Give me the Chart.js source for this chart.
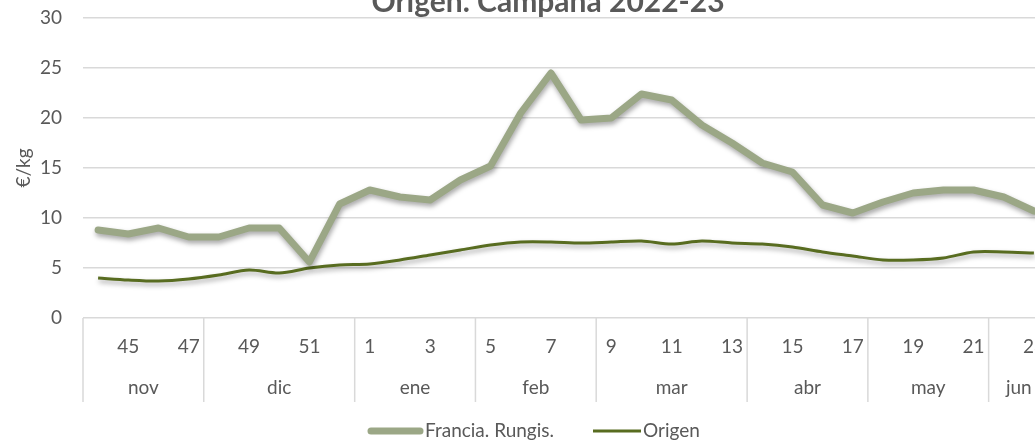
<!DOCTYPE html>
<html>
<head>
<meta charset="utf-8">
<script src="https://cdn.jsdelivr.net/npm/chart.js@4.4.1/dist/chart.umd.min.js"></script>
<style>
  html, body { margin: 0; padding: 0; background: #fff; overflow: hidden; }
  #wrap { position: absolute; left: 0; top: 0; width: 1066px; height: 442px; }
</style>
</head>
<body>
<div id="wrap"><canvas id="c"></canvas></div>
<script>
// weekly prices, campaign 2022-23 (€/kg)
const weeks = ['44','45','46','47','48','49','50','51','52',
  '1','2','3','4','5','6','7','8','9','10','11','12','13',
  '14','15','16','17','18','19','20','21','22','23'];
const months = ['nov','dic','ene','feb','mar','abr','may','jun'];
const monthWeeks = [4, 5, 4, 4, 5, 4, 4, 2];

const francia = [8.8, 8.4, 9.0, 8.1, 8.1, 9.0, 9.0, 5.6, 11.4,
  12.8, 12.1, 11.8, 13.8, 15.2, 20.5, 24.5, 19.8, 20.0, 22.4, 21.8, 19.3, 17.5,
  15.5, 14.6, 11.3, 10.5, 11.6, 12.5, 12.8, 12.8, 12.1, 10.7];
const origen = [4.0, 3.8, 3.7, 3.9, 4.3, 4.8, 4.5, 5.0, 5.3,
  5.4, 5.8, 6.3, 6.8, 7.3, 7.6, 7.6, 7.5, 7.6, 7.7, 7.4, 7.7, 7.5,
  7.4, 7.1, 6.6, 6.2, 5.8, 5.8, 6.0, 6.6, 6.6, 6.5];

const yTicks = [0, 5, 10, 15, 20, 25, 30];

const FONT = 'Lato, "Open Sans", sans-serif';
const TEXT = '#595959';
const GRID = '#d9d9d9';
const C_FR = '#9ba786';
const C_OR = '#586c20';

// soft drop shadow under the lines, like the office chart
const shadowPlugin = {
  id: 'shadow',
  beforeDatasetDraw(chart) {
    const ctx = chart.ctx;
    ctx.save();
    ctx.shadowColor = 'rgba(0,0,0,0.35)';
    ctx.shadowBlur = 5;
    ctx.shadowOffsetX = 1;
    ctx.shadowOffsetY = 3;
  },
  afterDatasetDraw(chart) { chart.ctx.restore(); },
};

// month groups under the week labels + title + legend
const decoPlugin = {
  id: 'deco',
  afterDraw(chart) {
    const ctx = chart.ctx;
    const x = chart.scales.x;
    const area = chart.chartArea;
    const half = (x.getPixelForValue(1) - x.getPixelForValue(0)) / 2;
    ctx.save();
    ctx.strokeStyle = GRID;
    ctx.lineWidth = 1.5;
    ctx.fillStyle = TEXT;
    ctx.font = '19px ' + FONT;
    ctx.textAlign = 'center';
    ctx.textBaseline = 'middle';
    let start = 0;
    const edge = (i) => x.getPixelForValue(i) - half;
    ctx.beginPath();
    ctx.moveTo(edge(0), area.bottom); ctx.lineTo(edge(0), 402);
    ctx.stroke();
    months.forEach((m, k) => {
      const end = start + monthWeeks[k];
      const xr = edge(end);
      ctx.beginPath();
      ctx.moveTo(xr, area.bottom); ctx.lineTo(xr, 402);
      ctx.stroke();
      ctx.fillText(m, (edge(start) + xr) / 2, 388);
      start = end;
    });

    // title (only the second line is visible in the crop)
    ctx.font = 'bold 30px ' + FONT;
    ctx.textBaseline = 'alphabetic';
    ctx.fillText('Origen. Campaña 2022-23', 548, 12);

    // legend
    ctx.font = '19px ' + FONT;
    ctx.textAlign = 'left';
    ctx.textBaseline = 'middle';
    const ly = 431;
    ctx.lineCap = 'round';
    ctx.strokeStyle = C_FR; ctx.lineWidth = 7;
    ctx.beginPath(); ctx.moveTo(371, ly); ctx.lineTo(420, ly); ctx.stroke();
    ctx.fillText('Francia. Rungis.', 425, ly);
    ctx.lineCap = 'butt';
    ctx.strokeStyle = C_OR; ctx.lineWidth = 3;
    ctx.beginPath(); ctx.moveTo(593, ly); ctx.lineTo(641, ly); ctx.stroke();
    ctx.fillText('Origen', 643, ly);
    ctx.restore();
  },
};

new Chart(document.getElementById('c'), {
  type: 'line',
  data: {
    labels: weeks,
    datasets: [
      { label: 'Francia. Rungis.', data: francia, borderColor: C_FR, backgroundColor: C_FR,
        borderWidth: 7, pointRadius: 0, tension: 0, borderJoinStyle: 'round', borderCapStyle: 'round' },
      { label: 'Origen', data: origen, borderColor: C_OR, backgroundColor: C_OR,
        borderWidth: 3, pointRadius: 0, tension: 0.3, borderJoinStyle: 'round' },
    ],
  },
  options: {
    responsive: true, maintainAspectRatio: false, animation: false,
    layout: { padding: { top: 0, right: 17, bottom: 0, left: 0 } },
    plugins: { legend: { display: false }, title: { display: false }, tooltip: { enabled: false } },
    scales: {
      x: {
        offset: true,
        grid: { display: false },
        border: { display: false },
        afterFit: (s) => { s.height = 124; },
        ticks: {
          autoSkip: false, maxRotation: 0, padding: 9, color: TEXT,
          font: { family: FONT, size: 19 },
          callback: (v, i) => (Number(weeks[i]) % 2 ? weeks[i] : ''),
        },
      },
      y: {
        min: 0, max: 30,
        // fixed width, and keep the tick padding from pushing the plot down
        afterFit: (s) => { s.width = 83; s.paddingTop = 18; s.paddingBottom = 0; },
        afterBuildTicks: (s) => { s.ticks = yTicks.map((v) => ({ value: v })); },
        grid: { color: GRID, lineWidth: 1.5, drawTicks: false },
        border: { display: false },
        ticks: { padding: 21, color: TEXT, font: { family: FONT, size: 19 } },
        title: { display: true, text: '€/kg', color: TEXT, font: { family: FONT, size: 19 }, padding: { top: 12, bottom: 0 } },
      },
    },
  },
  plugins: [shadowPlugin, decoPlugin],
});
</script>
</body>
</html>
